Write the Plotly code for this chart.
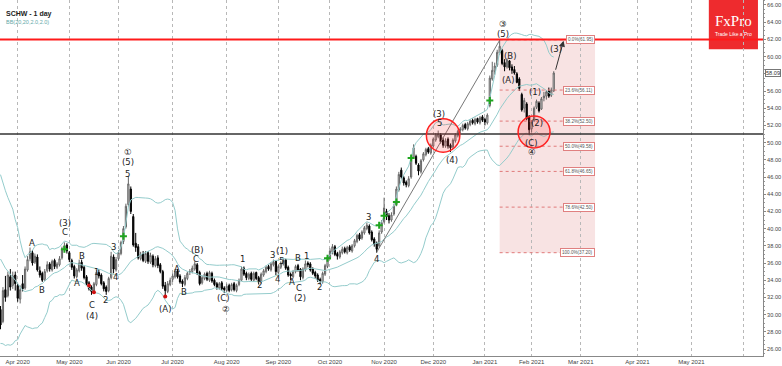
import numpy as np
import plotly.graph_objects as go

# ---------------- data (daily bars, index 0 = 1 Apr 2020) ----------------
start_index = -7

opens = [
    30.6, 29.2, 32.9, 32.2, 34.4, 33.4, 34.6, 33.4, 31.8, 33.6,
    33.1, 35.2, 36.5, 37.2, 36.1, 36.7, 35.1, 34.8, 34.1, 35.1,
    35.9, 35.2, 36.3, 35.5, 35.8, 36.6, 37.7, 38.1, 37.2, 36.3,
    35.6, 34.4, 35.1, 36.1, 35.5, 34.4, 33.7, 33.2, 32.8, 33.5,
    34.9, 34.6, 33.7, 33.2, 32.8, 34.3, 36.7, 35.2, 36.5, 37.1,
    38.5, 40.2, 42.8, 44.6, 41.4, 38.3, 37.9, 36.5, 37.1, 36.2,
    37.2, 36.1, 36.8, 35.7, 36.6, 35.8, 35.0, 33.4, 32.7, 33.5,
    34.1, 34.4, 35.1, 34.5, 33.9, 33.5, 34.2, 34.9, 35.0, 35.3,
    35.8, 34.9, 33.7, 34.2, 34.8, 34.0, 34.8, 34.0, 33.6, 33.1,
    33.7, 33.1, 32.8, 33.4, 32.9, 33.6, 32.8, 33.5, 34.0, 35.4,
    34.8, 34.2, 34.8, 34.0, 34.9, 34.3, 33.8, 34.6, 35.0, 35.6,
    35.2, 35.8, 36.2, 34.9, 35.5, 35.9, 36.4, 35.5, 34.7, 34.4,
    35.0, 35.7, 35.3, 34.3, 35.2, 36.0, 35.9, 35.3, 34.9, 34.6,
    34.1, 33.8, 34.7, 35.6, 36.6, 37.3, 37.9, 37.1, 36.7, 37.2,
    37.7, 37.2, 37.9, 37.4, 38.0, 38.5, 39.3, 38.9, 39.5, 40.0,
    40.3, 39.6, 38.8, 38.3, 38.0, 39.6, 40.8, 42.0, 41.5, 41.0,
    41.7, 42.8, 44.5, 46.8, 45.9, 45.4, 45.0, 46.0, 48.3, 48.4,
    47.4, 46.6, 48.0, 48.6, 49.3, 48.8, 49.6, 50.3, 50.7, 50.9,
    50.3, 49.6, 50.4, 49.7, 49.5, 50.2, 50.8, 51.4, 51.5, 52.1,
    51.6, 52.1, 52.6, 52.2, 52.8, 52.3, 53.0, 52.7, 52.3, 54.3,
    57.4, 58.3, 59.0, 60.4, 60.7, 59.3, 58.8, 59.5, 58.8, 58.5,
    58.0, 57.4, 55.6, 54.0, 54.5, 53.0, 51.6, 52.6, 54.1, 54.6,
    53.9, 55.2, 55.4, 56.0, 55.5, 56.0,
]
highs = [
    31.0, 33.2, 34.5, 35.0, 35.3, 35.0, 35.0, 33.6, 33.4, 34.6,
    35.6, 36.8, 37.8, 37.5, 37.1, 37.0, 35.6, 35.0, 35.3, 36.2,
    36.1, 36.4, 36.5, 36.1, 36.8, 37.9, 38.4, 38.3, 37.4, 36.5,
    35.8, 35.4, 36.4, 36.4, 35.7, 34.6, 33.9, 33.4, 33.8, 35.2,
    35.3, 34.8, 33.9, 33.4, 34.4, 37.3, 37.0, 36.7, 37.5, 38.6,
    40.3, 42.9, 46.0, 44.9, 41.7, 39.5, 38.2, 37.3, 37.4, 37.4,
    37.4, 37.2, 37.0, 36.8, 36.9, 36.0, 35.2, 33.8, 33.9, 34.3,
    34.8, 35.3, 35.3, 34.7, 34.1, 34.6, 35.0, 35.3, 35.7, 36.2,
    36.0, 35.1, 34.5, 34.9, 35.0, 35.1, 35.0, 34.2, 33.8, 33.8,
    33.9, 33.3, 33.6, 33.6, 33.7, 33.8, 33.6, 34.2, 35.6, 35.6,
    35.0, 34.9, 35.0, 35.0, 35.0, 34.5, 34.9, 35.3, 35.7, 35.8,
    36.1, 36.4, 36.3, 35.8, 36.2, 36.6, 36.5, 35.7, 34.9, 35.2,
    35.8, 35.9, 35.4, 35.5, 36.3, 36.2, 36.1, 35.5, 35.1, 34.8,
    34.3, 35.0, 35.9, 36.9, 37.7, 38.2, 38.1, 37.3, 37.5, 37.9,
    37.9, 38.0, 38.1, 38.2, 38.8, 39.4, 39.5, 39.8, 40.3, 40.7,
    40.5, 39.8, 39.0, 38.5, 39.8, 41.0, 43.6, 42.3, 41.8, 41.9,
    42.9, 44.9, 46.6, 47.1, 46.1, 45.6, 46.1, 48.5, 49.8, 48.6,
    47.6, 48.1, 48.9, 49.4, 49.5, 49.9, 50.6, 51.1, 51.4, 51.1,
    50.6, 50.5, 50.6, 49.9, 50.5, 51.1, 51.5, 51.8, 52.2, 52.3,
    52.4, 52.7, 52.8, 52.9, 52.9, 53.1, 53.2, 52.9, 53.4, 57.8,
    59.4, 59.3, 60.8, 61.95, 60.9, 59.7, 59.8, 59.6, 59.1, 58.9,
    58.2, 57.6, 55.8, 55.2, 54.7, 53.2, 52.6, 54.2, 55.0, 54.8,
    55.3, 55.9, 56.1, 56.4, 56.4, 58.3,
]
lows = [
    28.3, 29.0, 31.5, 32.0, 32.8, 33.0, 32.8, 31.5, 31.3, 32.7,
    32.9, 35.0, 36.2, 35.7, 35.9, 35.0, 34.3, 33.8, 33.9, 34.9,
    35.0, 35.0, 35.3, 35.3, 35.6, 36.4, 37.4, 37.1, 36.1, 35.2,
    34.2, 34.2, 34.9, 35.1, 34.1, 33.4, 32.8, 32.3, 32.6, 33.3,
    34.2, 33.4, 32.7, 32.3, 32.6, 34.1, 34.8, 35.0, 36.3, 36.9,
    38.2, 40.0, 42.5, 41.7, 37.9, 37.3, 36.4, 36.3, 36.1, 36.0,
    35.9, 35.9, 35.5, 35.5, 35.4, 34.8, 33.0, 32.0, 32.5, 33.3,
    33.8, 34.2, 34.2, 33.6, 33.2, 33.3, 34.0, 34.6, 34.8, 35.1,
    34.6, 33.4, 33.5, 34.0, 33.9, 33.8, 33.7, 33.3, 32.9, 32.9,
    32.8, 32.5, 32.6, 32.6, 32.7, 32.7, 32.6, 33.3, 33.9, 34.5,
    34.0, 34.0, 33.9, 33.8, 34.0, 33.5, 33.6, 34.4, 34.8, 35.1,
    35.0, 35.6, 34.6, 34.7, 35.3, 35.7, 35.2, 34.4, 34.0, 34.2,
    34.8, 35.0, 34.0, 34.1, 35.0, 35.5, 35.0, 34.6, 34.2, 33.8,
    33.5, 33.6, 34.5, 35.4, 36.4, 37.0, 36.8, 36.4, 36.5, 37.0,
    37.1, 37.0, 37.3, 37.2, 37.8, 38.3, 38.6, 38.7, 39.3, 39.8,
    39.3, 38.5, 37.9, 37.2, 37.8, 39.4, 40.6, 41.0, 40.6, 40.8,
    41.5, 42.6, 44.3, 45.8, 45.0, 44.8, 44.8, 45.8, 48.1, 47.4,
    46.2, 46.4, 47.8, 48.4, 48.7, 48.6, 49.4, 50.1, 50.5, 49.9,
    49.4, 49.4, 49.3, 48.9, 49.3, 50.0, 50.6, 51.1, 51.3, 51.5,
    51.4, 51.9, 52.1, 52.0, 52.2, 52.1, 52.4, 52.0, 52.1, 54.1,
    57.2, 57.9, 58.8, 60.2, 59.0, 58.3, 58.6, 58.4, 58.0, 57.9,
    56.9, 56.0, 53.6, 53.5, 52.6, 50.9, 51.2, 52.4, 53.9, 53.5,
    53.8, 54.8, 55.0, 55.2, 55.3, 55.9,
]
closes = [
    28.8, 32.8, 32.0, 34.6, 33.2, 34.5, 33.6, 31.9, 32.9, 33.0,
    35.3, 36.4, 37.3, 36.0, 36.8, 35.2, 34.6, 34.0, 35.0, 35.8,
    35.3, 36.2, 35.6, 35.9, 36.5, 37.6, 38.0, 37.4, 36.4, 35.5,
    34.5, 35.2, 36.0, 35.4, 34.3, 33.6, 33.0, 32.7, 33.6, 34.9,
    34.5, 33.6, 33.0, 32.7, 34.2, 36.8, 35.3, 36.4, 37.2, 38.4,
    40.0, 42.6, 45.2, 42.0, 38.1, 37.8, 36.6, 37.0, 36.3, 37.1,
    36.2, 36.9, 35.8, 36.5, 35.7, 35.0, 33.3, 32.8, 33.6, 34.0,
    34.5, 35.0, 34.4, 33.8, 33.6, 34.3, 34.8, 35.0, 35.4, 35.9,
    34.8, 33.6, 34.3, 34.7, 34.1, 34.9, 33.9, 33.5, 33.2, 33.6,
    33.0, 32.9, 33.3, 32.8, 33.5, 32.9, 33.4, 34.0, 35.3, 34.7,
    34.3, 34.7, 34.1, 34.8, 34.2, 33.9, 34.7, 35.1, 35.5, 35.3,
    35.9, 36.1, 35.0, 35.6, 36.0, 36.3, 35.4, 34.6, 34.5, 35.0,
    35.6, 35.2, 34.4, 35.3, 35.9, 35.8, 35.2, 34.8, 34.5, 34.0,
    33.9, 34.8, 35.7, 36.7, 37.4, 37.9, 37.0, 36.8, 37.3, 37.6,
    37.3, 37.8, 37.5, 38.0, 38.6, 39.2, 38.8, 39.6, 40.1, 40.4,
    39.5, 38.7, 38.2, 37.6, 39.5, 40.7, 42.4, 41.4, 41.0, 41.6,
    42.6, 44.6, 46.3, 46.0, 45.3, 45.1, 45.8, 48.2, 49.4, 47.6,
    46.7, 47.9, 48.7, 49.2, 48.9, 49.7, 50.4, 50.9, 51.0, 50.1,
    49.7, 50.2, 49.6, 49.4, 50.3, 50.9, 51.3, 51.6, 52.0, 51.7,
    52.2, 52.5, 52.3, 52.7, 52.4, 52.9, 52.6, 52.4, 53.2, 57.5,
    58.4, 58.9, 60.5, 61.2, 59.2, 58.8, 59.6, 58.7, 58.4, 58.1,
    57.0, 56.3, 53.8, 54.9, 52.8, 51.5, 52.4, 54.0, 54.8, 53.7,
    55.1, 55.4, 55.9, 55.4, 56.1, 58.09,
]
# closes before the first visible bar (Bollinger warm-up)
warmup_closes = [46.5, 44.0, 42.0, 41.5, 40.0, 40.5, 42.0, 40.0, 41.5, 39.5,
                 38.5, 34.5, 36.5, 34.0, 31.0, 33.5, 30.5, 31.5, 29.5, 30.0]
bb_period = 20
bb_dev = 2.0

month_ticks = [0, 21, 41, 63, 85, 106, 127, 149, 169, 190, 209, 229, 252, 274, 295]
month_labels = ["Apr 2020", "May 2020", "Jun 2020", "Jul 2020", "Aug 2020", "Sep 2020",
                "Oct 2020", "Nov 2020", "Dec 2020", "Jan 2021", "Feb 2021", "Mar 2021",
                "Apr 2021", "May 2021", ""]
price_ticks = list(range(26, 67, 2))

resistance_level = 62.0
support_level = 51.0

fib_pct = [0.0, 23.6, 38.2, 50.0, 61.8, 78.6, 100.0]
fib_vals = [61.95, 56.11, 52.50, 49.58, 46.65, 42.50, 37.20]
fib_start, fib_label_left, fib_end = 196, 224.2, 234.8

wave_text = ["(2)", "A", "B", "(3)", "C", "A", "B", "C", "(4)", "1", "2", "3", "4", "5", "(5)", "①",
             "(A)", "A", "B", "C", "(B)", "(C)", "②", "1", "2", "3", "4", "5", "(1)", "A", "B", "C",
             "(2)", "1", "2", "3", "4", "(3)", "5", "(4)", "③", "(5)", "(B)", "(A)", "(1)", "(2)",
             "(C)", "④", "(3)"]
wave_x = [-7.6, 5.9, 10.0, 19.2, 19.2, 24.0, 26.0, 30.1, 30.1, 32.1, 35.9, 38.9, 39.6, 44.7, 44.9, 44.9,
          59.9, 64.9, 67.8, 72.5, 72.8, 83.6, 84.7, 91.5, 98.5, 103.5, 105.7, 107.4, 107.4, 111.4, 113.9, 114.5,
          114.8, 117.5, 122.7, 142.6, 146.0, 171.5, 171.5, 176.5, 197.2, 197.2, 200.2, 199.5, 210.4, 211.3,
          209.0, 209.0, 218.9]
wave_y = [27.3, 38.36, 32.86, 40.62, 39.57, 33.64, 36.85, 31.12, 29.84, 34.99, 31.70, 37.83, 34.34, 46.31, 47.74, 48.9,
          30.65, 35.27, 32.66, 36.47, 37.51, 31.9, 30.65, 36.43, 33.44, 36.9, 34.1, 36.27, 37.4, 33.83, 36.55, 33.06,
          31.97, 36.81, 33.24, 41.31, 36.43, 53.33, 52.24, 47.98, 63.79, 62.63, 60.07, 57.28, 55.92, 52.31,
          49.99, 48.94, 60.85]

buy_x = [19, 43, 126, 147, 149, 154, 160, 192]
buy_y = [37.6, 39.1, 36.55, 40.4, 41.5, 43.1, 48.2, 54.9]
sell_x = [29, 31, 60]
sell_y = [33.4, 32.6, 32.1]

# trend line (wave 4 low -> wave 5 top) and projection arrow
trend_x = [146.1, 196.1]
trend_y = [37.3, 61.95]
arrow_from = (218.6, 58.3)
arrow_to = (222.0, 61.85)

# highlight circles (centre x, centre y, half-width in bars, half-height in price)
circles = [(173.0, 50.83, 6.8, 1.94), (210.0, 51.23, 6.5, 1.86)]

x_range = [-7.2, 303.1]
y_range = [25.19, 66.58]

# ---------------- derived ----------------
x_idx = list(range(start_index, start_index + len(closes)))
allc = np.array(warmup_closes + closes, dtype=float)
bb_mid, bb_up, bb_lo = [], [], []
for k in range(len(warmup_closes), len(allc)):
    w = allc[k - bb_period + 1:k + 1]
    m, s = w.mean(), w.std()
    bb_mid.append(m)
    bb_up.append(m + bb_dev * s)
    bb_lo.append(m - bb_dev * s)

last_price = closes[-1]
price_ticktext = ["" if abs(v - last_price) < 1.0 else f"{v:.2f}" for v in price_ticks]

fig = go.Figure()
band_col = "#94cccc"
for arr in (bb_up, bb_mid, bb_lo):
    fig.add_trace(go.Scatter(x=x_idx, y=arr, mode="lines", line=dict(color=band_col, width=1),
                             hoverinfo="skip", showlegend=False))

fig.add_trace(go.Scatter(x=trend_x, y=trend_y, mode="lines", line=dict(color="#777777", width=1),
                         hoverinfo="skip", showlegend=False))

fig.add_trace(go.Candlestick(
    x=x_idx, open=opens, high=highs, low=lows, close=closes,
    increasing=dict(line=dict(color="#666666", width=1), fillcolor="#e4e4e4"),
    decreasing=dict(line=dict(color="#000000", width=1), fillcolor="#000000"),
    whiskerwidth=0, showlegend=False))

fig.add_trace(go.Scatter(x=buy_x, y=buy_y, mode="markers",
                         marker=dict(symbol="cross-thin", size=5, line=dict(color="#1fa51f", width=2)),
                         hoverinfo="skip", showlegend=False))
fig.add_trace(go.Scatter(x=sell_x, y=sell_y, mode="markers",
                         marker=dict(symbol="circle", size=4, color="#d01010"),
                         hoverinfo="skip", showlegend=False))

shapes = []
# fibonacci zone
shapes.append(dict(type="rect", xref="x", yref="y", x0=fib_start, x1=fib_end,
                   y0=fib_vals[-1], y1=fib_vals[0], fillcolor="#f8e3e3", line=dict(width=0), layer="below"))
for v in fib_vals:
    shapes.append(dict(type="line", xref="x", yref="y", x0=fib_start, x1=fib_label_left, y0=v, y1=v,
                       line=dict(color="#e07a7a", width=1, dash="dot")))
# horizontal levels
shapes.append(dict(type="line", xref="paper", yref="y", x0=0, x1=1, y0=resistance_level, y1=resistance_level,
                   line=dict(color="#ff1a1a", width=2)))
shapes.append(dict(type="line", xref="paper", yref="y", x0=0, x1=1, y0=support_level, y1=support_level,
                   line=dict(color="#333333", width=1.5)))
for cx, cy, dx, dy in circles:
    shapes.append(dict(type="circle", xref="x", yref="y", x0=cx - dx, x1=cx + dx, y0=cy - dy, y1=cy + dy,
                       fillcolor="rgba(255,60,60,0.18)", line=dict(color="#ff2020", width=1.5)))
# FxPro logo box
shapes.append(dict(type="rect", xref="paper", yref="paper", x0=0.929, x1=0.9934, y0=0.862, y1=1.0,
                   fillcolor="#ee2b2e", line=dict(width=0), layer="below"))

annotations = []
for t, xv, yv in zip(wave_text, wave_x, wave_y):
    annotations.append(dict(x=xv, y=yv, xref="x", yref="y", text=t, showarrow=False,
                            font=dict(size=8.5, color="#222222", family="DejaVu Sans, Noto Sans CJK JP")))
for p, v in zip(fib_pct, fib_vals):
    annotations.append(dict(x=fib_end - 0.1, y=v, xref="x", yref="y", xanchor="right",
                            text=f"{p:.1f}%({v:.2f})", showarrow=False,
                            font=dict(size=4.6, color="#555555", family="Liberation Sans"),
                            bgcolor="white", bordercolor="#e08080", borderwidth=1, borderpad=1))
annotations.append(dict(x=arrow_to[0], y=arrow_to[1], ax=arrow_from[0], ay=arrow_from[1],
                        xref="x", yref="y", axref="x", ayref="y", text="", showarrow=True,
                        arrowhead=2, arrowsize=1.2, arrowwidth=1, arrowcolor="#333333"))
annotations.append(dict(x=0.005, y=0.977, xref="paper", yref="paper", xanchor="left", text="<b>SCHW - 1 day</b>",
                        showarrow=False, font=dict(size=7, color="#222222", family="Liberation Sans")))
annotations.append(dict(x=0.005, y=0.953, xref="paper", yref="paper", xanchor="left", text="BB(20,20,2.0,2.0)",
                        showarrow=False, font=dict(size=5.5, color="#5fa8a8", family="Liberation Sans")))
annotations.append(dict(x=0.9617, y=0.94, xref="paper", yref="paper", text="FxPro", showarrow=False,
                        xanchor="center", yanchor="middle",
                        font=dict(size=15, color="white", family="Liberation Serif")))
annotations.append(dict(x=0.9617, y=0.905, xref="paper", yref="paper", text="Trade Like a Pro", showarrow=False,
                        xanchor="center", yanchor="middle",
                        font=dict(size=5, color="white", family="Liberation Sans")))
annotations.append(dict(x=1.002, y=last_price, xref="paper", yref="y", xanchor="left",
                        text=f"{last_price:.2f}", showarrow=False,
                        font=dict(size=5.6, color="#333333", family="Liberation Sans"),
                        bgcolor="white", bordercolor="#777777", borderwidth=1, borderpad=0))

fig.update_layout(
    width=782, height=366,
    margin=dict(l=0, r=19, t=0, b=10),
    paper_bgcolor="white", plot_bgcolor="white",
    shapes=shapes, annotations=annotations,
    showlegend=False,
    xaxis=dict(range=x_range, tickmode="array", tickvals=month_ticks, ticktext=month_labels,
               showgrid=True, gridcolor="#b8b8b8", griddash="dot", gridwidth=1,
               zeroline=False, showline=True, linecolor="#888888", mirror=True,
               ticks="",
               tickfont=dict(size=6, color="#444444", family="Liberation Sans"),
               rangeslider=dict(visible=False), automargin=False, fixedrange=True),
    yaxis=dict(range=y_range, side="right", tickmode="array", tickvals=price_ticks,
               ticktext=price_ticktext, showgrid=False, zeroline=False,
               showline=True, linecolor="#888888", mirror=True, ticks="outside", ticklen=2,
               tickcolor="#888888", tickfont=dict(size=5.6, color="#444444", family="Liberation Sans"),
               minor=dict(ticks="outside", ticklen=1, dtick=0.5, tickcolor="#999999", showgrid=False),
               automargin=False, fixedrange=True),
)

fig.write_html("out.html", config={"displayModeBar": False},
               post_script="document.body.style.margin='0';document.body.style.overflow='hidden';")
